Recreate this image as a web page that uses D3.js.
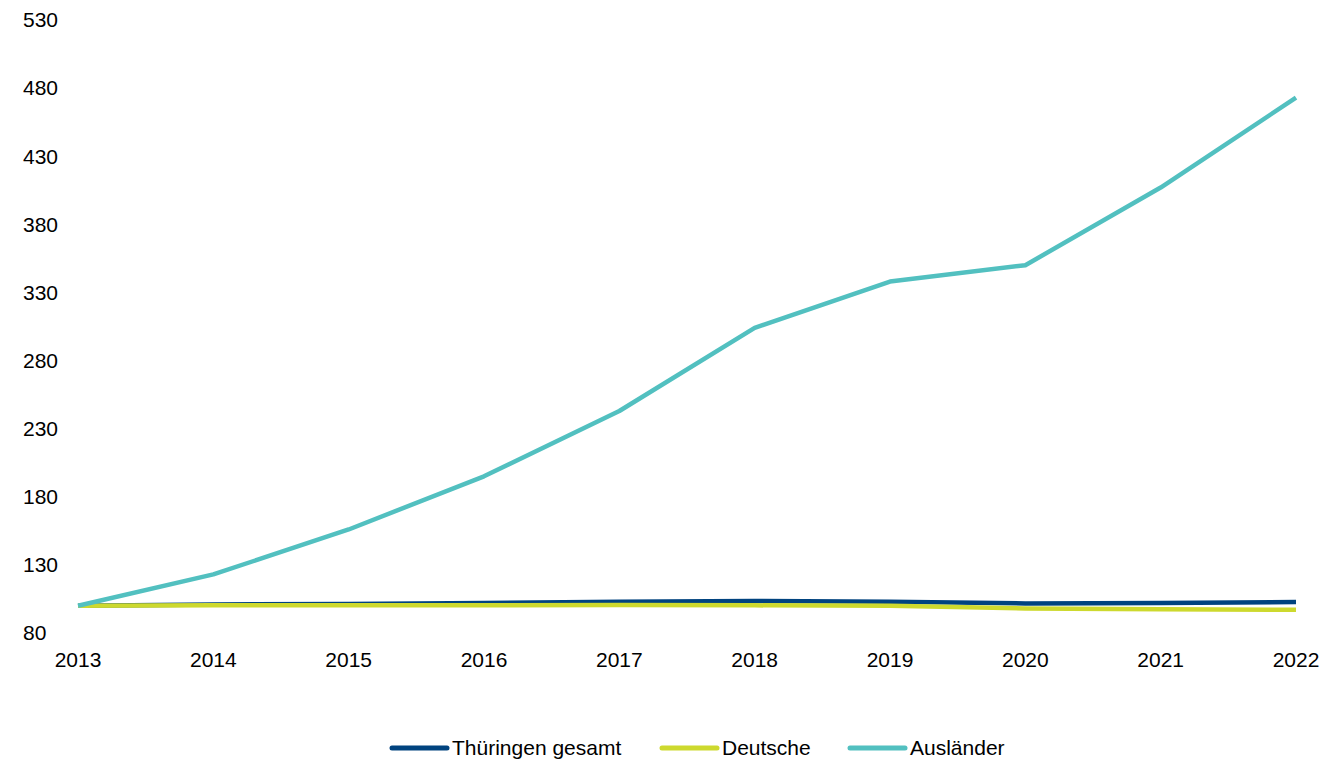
<!DOCTYPE html>
<html>
<head>
<meta charset="utf-8">
<script src="https://cdn.jsdelivr.net/npm/d3@7"></script>
<style>
  html, body { margin: 0; padding: 0; background: #fff; }
  svg { display: block; font-family: 'Liberation Sans', Arial, sans-serif; }
</style>
</head>
<body>
<div id="chart"></div>
<script>
const years = [2013, 2014, 2015, 2016, 2017, 2018, 2019, 2020, 2021, 2022];
const thueringen = [100, 101, 101.3, 102, 103, 103.5, 103, 101.7, 102, 102.8];
const deutsche = [100, 100.3, 100.3, 100.4, 100.5, 100.3, 100, 98, 97.5, 97];
const auslaender = [100, 123, 156, 195, 243, 304, 338, 350, 407, 473];
const yTicks = [80, 130, 180, 230, 280, 330, 380, 430, 480, 530];

const series = [
  {name: 'Thüringen gesamt', values: thueringen, color: '#00437f'},
  {name: 'Deutsche', values: deutsche, color: '#cdd92e'},
  {name: 'Ausländer', values: auslaender, color: '#52c0c0'}
];

const W = 1323, H = 760;
const svg = d3.select('#chart').append('svg').attr('width', W).attr('height', H);

const x = d3.scalePoint().domain(years).range([78, 1296]);
const y = d3.scaleLinear().domain([80, 530]).range([633, 20]);

// y tick labels, left aligned
svg.append('g').selectAll('text').data(yTicks).join('text')
  .attr('x', 23).attr('y', d => y(d)).attr('dy', '0.35em')
  .attr('font-size', 21).attr('fill', '#000')
  .text(d => d);

// x tick labels
svg.append('g').selectAll('text').data(years).join('text')
  .attr('x', d => x(d)).attr('y', 660).attr('dy', '0.35em')
  .attr('text-anchor', 'middle').attr('font-size', 21).attr('fill', '#000')
  .text(d => d);

const line = d3.line().x((d, i) => x(years[i])).y(d => y(d));

svg.append('g').selectAll('path').data(series).join('path')
  .attr('fill', 'none')
  .attr('stroke', d => d.color)
  .attr('stroke-width', 4.5)
  .attr('stroke-linejoin', 'round')
  .attr('d', d => line(d.values));

// legend
const legendX = [392, 662, 850];
const lg = svg.append('g').selectAll('g').data(series).join('g')
  .attr('transform', (d, i) => `translate(${legendX[i]},748)`);
lg.append('line').attr('x1', 0).attr('x2', 55).attr('y1', 0).attr('y2', 0)
  .attr('stroke', d => d.color).attr('stroke-width', 5).attr('stroke-linecap', 'round');
lg.append('text').attr('x', 60).attr('dy', '0.35em')
  .attr('font-size', 21).attr('fill', '#000')
  .text(d => d.name);
</script>
</body>
</html>
